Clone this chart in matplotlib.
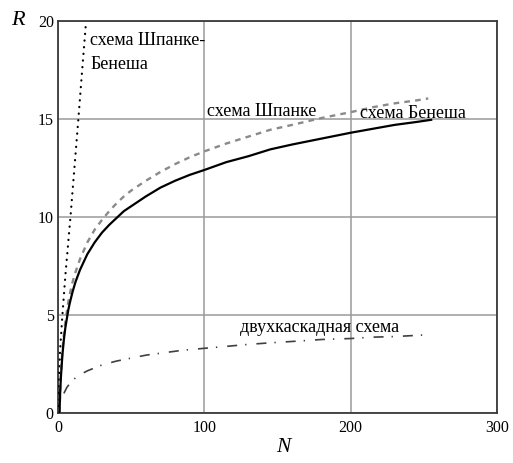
import matplotlib
matplotlib.use("Agg")
import matplotlib.pyplot as plt

plt.rcParams['font.family'] = ['Liberation Serif', 'DejaVu Serif']

# Schemes: number of inputs N vs. rank R
n_benes = [1, 1.5, 2, 3, 4, 5, 7, 8, 10, 12, 15, 20, 25, 30, 35, 40, 45, 50, 60, 70,
           80, 90, 100, 115, 130, 145, 160, 180, 200, 215, 230, 245, 255]
r_benes = [0.0, 1.1, 1.87, 2.97, 3.75, 4.35, 5.25, 5.6, 6.2, 6.7, 7.3, 8.1, 8.7, 9.2,
           9.6, 9.95, 10.3, 10.55, 11.05, 11.5, 11.85, 12.15, 12.4, 12.8, 13.1, 13.45,
           13.7, 14.0, 14.3, 14.5, 14.7, 14.85, 14.96]

n_spanke = [1, 1.5, 2, 3, 4, 5, 7, 8, 10, 12, 15, 20, 25, 30, 35, 40, 45, 50, 60, 70,
            80, 90, 100, 115, 130, 145, 160, 180, 200, 215, 230, 245, 253]
r_spanke = [0.0, 1.2, 2.0, 3.2, 4.0, 4.65, 5.65, 6.05, 6.7, 7.2, 7.85, 8.7, 9.35, 9.85,
            10.3, 10.7, 11.05, 11.35, 11.85, 12.3, 12.7, 13.05, 13.35, 13.75, 14.1,
            14.45, 14.7, 15.05, 15.35, 15.6, 15.8, 15.95, 16.05]

n_spanke_benes = [0, 0.5, 1.4, 3.0, 5.0, 8.5, 11.2, 13.9, 16.5, 19.2]
r_spanke_benes = [0.0, 1.2, 3.2, 5.0, 7.0, 10.0, 12.5, 15.0, 17.5, 20.0]

n_two_stage = [4, 6, 8, 10, 12, 15, 20, 25, 30, 35, 40, 50, 60, 70, 85, 100, 115, 130,
               145, 160, 180, 200, 215, 230, 245, 255]
r_two_stage = [1.0, 1.3, 1.5, 1.65, 1.8, 1.95, 2.15, 2.3, 2.45, 2.55, 2.65, 2.8, 2.95,
               3.05, 3.2, 3.3, 3.4, 3.5, 3.58, 3.65, 3.75, 3.8, 3.87, 3.9, 3.96, 4.0]

x_ticks = [0, 100, 200, 300]
y_ticks = [0, 5, 10, 15, 20]

fig = plt.figure(figsize=(5.13, 4.63), dpi=100)
ax = fig.add_axes([0.1131, 0.108, 0.8558, 0.8466])

ax.plot(n_spanke_benes, r_spanke_benes, color='black', lw=1.6,
        linestyle=(0, (0.1, 2.9)), dash_capstyle='round', zorder=3)
ax.plot(n_spanke, r_spanke, color='#8a8a8a', lw=1.7,
        linestyle=(0, (2.4, 2.2)), zorder=3)
ax.plot(n_benes, r_benes, color='black', lw=1.6, zorder=4)
ax.plot(n_two_stage, r_two_stage, color='#404040', lw=1.2,
        linestyle=(0, (6, 4.8, 0.8, 6)), zorder=3)

ax.set_xlim(0, 300)
ax.set_ylim(0, 20)
ax.set_xticks(x_ticks)
ax.set_yticks(y_ticks)
ax.grid(True, color='#9a9a9a', lw=1.1)
ax.set_axisbelow(True)
ax.tick_params(length=0, labelsize=11.5)
ax.tick_params(axis='y', pad=3)
ax.tick_params(axis='x', pad=5)
for s in ax.spines.values():
    s.set_color('#3a3a3a')
    s.set_linewidth(1.3)

fs = 13
ax.text(21.9, 18.8, 'схема Шпанке-', fontsize=fs, va='baseline', ha='left')
ax.text(21.9, 17.55, 'Бенеша', fontsize=fs, va='baseline', ha='left')
ax.text(101.8, 15.15, 'схема Шпанке', fontsize=fs, va='baseline', ha='left')
ax.text(206.4, 15.05, 'схема Бенеша', fontsize=fs, va='baseline', ha='left')
ax.text(124.4, 4.13, 'двухкаскадная схема', fontsize=fs, va='baseline', ha='left')

fig.text(0.034, 0.955, 'R', fontsize=16, style='italic', ha='center', va='center')
fig.text(0.552, 0.012, 'N', fontsize=15.5, style='italic', ha='center', va='bottom')

fig.savefig('out.png', dpi=100)
